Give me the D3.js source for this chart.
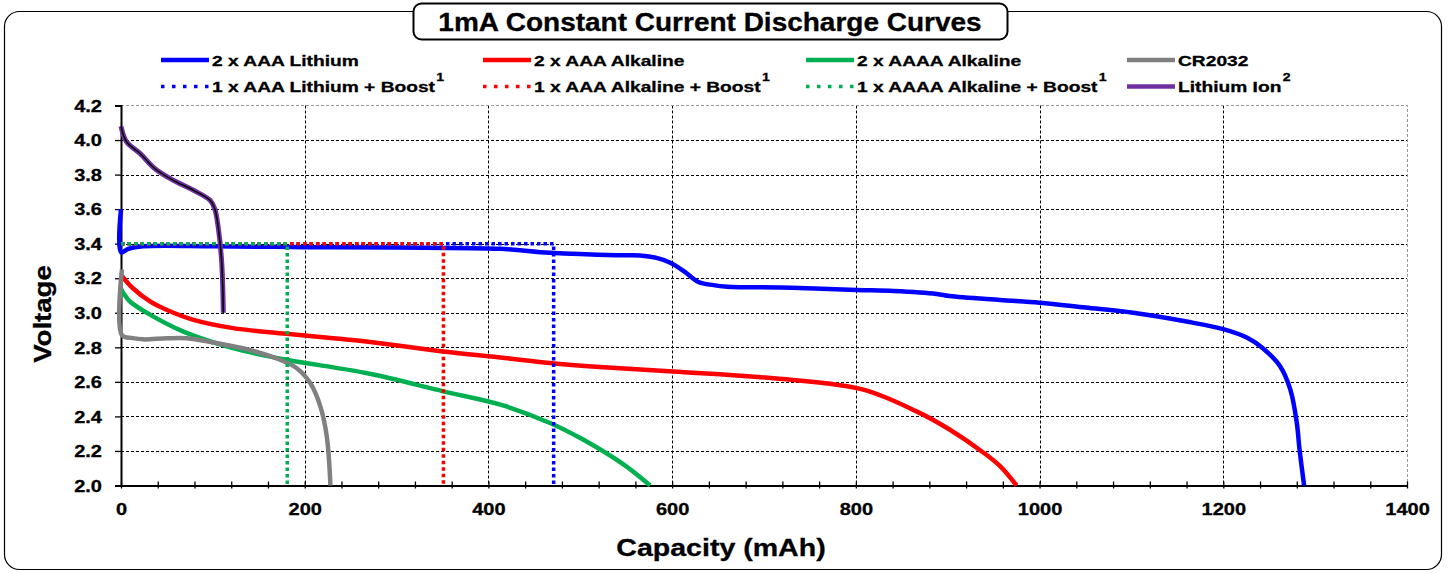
<!DOCTYPE html>
<html>
<head>
<meta charset="utf-8">
<script src="https://cdn.jsdelivr.net/npm/d3@7"></script>
<style>
  body { margin: 0; background: #fff; }
  text { font-family: "Liberation Sans", Arial, sans-serif; font-weight: bold; fill: #000; stroke: #000; stroke-width: 0.3px; }
</style>
</head>
<body>
<div id="chart"></div>
<script>
// values: [capacity mAh, volts]
var liAAA = [[0, 3.60], [0, 3.35], [8, 3.37], [24, 3.385], [100, 3.385], [200, 3.38], [300, 3.378],
  [413, 3.37], [467, 3.347], [540, 3.333], [565, 3.332], [583, 3.318], [598, 3.29], [613, 3.24],
  [628, 3.18], [645, 3.16], [660, 3.151], [730, 3.145], [801, 3.132], [841, 3.126], [888, 3.109],
  [902, 3.097], [957, 3.074], [1000, 3.058], [1050, 3.03], [1102, 3.0], [1160, 2.949], [1200, 2.905],
  [1226, 2.855], [1243, 2.795], [1262, 2.689], [1273, 2.555], [1280, 2.364], [1283, 2.208], [1288, 2.0]]
var alkAAA = [[0, 3.22], [3, 3.20], [13, 3.142], [32, 3.064], [50, 3.016], [79, 2.959], [122, 2.911],
  [180, 2.878], [267, 2.834], [351, 2.776], [413, 2.741], [467, 2.709], [521, 2.686], [601, 2.66],
  [721, 2.616], [808, 2.555], [866, 2.429], [902, 2.324], [939, 2.19], [957, 2.112], [975, 2.0]]
var alkAAAA = [[0, 3.14], [3, 3.11], [10, 3.064], [32, 2.988], [68, 2.891], [122, 2.795], [180, 2.728],
  [267, 2.651], [351, 2.545], [413, 2.468], [467, 2.362], [503, 2.266], [547, 2.122], [576, 2.0]]
var cr2032 = [[1, 3.25], [1, 2.87], [13, 2.853], [24, 2.846], [50, 2.852], [72, 2.852], [100, 2.828],
  [140, 2.785], [173, 2.728], [191, 2.68], [206, 2.593], [217, 2.458], [224, 2.285], [228, 2.0]]
var liIon = [[0, 4.08], [6, 3.99], [21, 3.921], [37, 3.834], [57, 3.767], [79, 3.709], [97, 3.651],
  [102, 3.603], [106, 3.488], [109.6, 3.295], [111.4, 3.0]]
var liBoost = [[0, 3.40], [471, 3.40], [471, 2.0]]
var alkBoost = [[0, 3.40], [351, 3.40], [351, 2.0]]
var aaaaBoost = [[0, 3.40], [181, 3.40], [181, 2.0]]

var xTicks = d3.range(0, 1401, 40)
var xLabels = [0, 200, 400, 600, 800, 1000, 1200, 1400]
var yTicks = [2.0, 2.2, 2.4, 2.6, 2.8, 3.0, 3.2, 3.4, 3.6, 3.8, 4.0, 4.2]

var legendRow1 = ["2 x AAA Lithium", "2 x AAA Alkaline", "2 x AAAA Alkaline", "CR2032"]
var legendRow2 = ["1 x AAA Lithium + Boost", "1 x AAA Alkaline + Boost", "1 x AAAA Alkaline + Boost", "Lithium Ion"]
var legendSup2 = ["1", "1", "1", "2"]

var blue = "#0000ff", red = "#ff0000", green = "#00b050", grey = "#808080", purple = "#7030a0"

// canvas
var svgWidth = 1453
var svgHeight = 573
var plot = { left: 121, right: 1407, top: 105.5, bottom: 485.5 }

var svg = d3.select("#chart")
  .append("svg")
  .attr("width", svgWidth)
  .attr("height", svgHeight)

// text in the picture is a little wider than normal Arial
function label(x, y, str, size, anchor, sx, rot) {
  var t = svg.append("text")
    .attr("transform", `translate(${x},${y})` + (rot ? ` rotate(${rot})` : "") + ` scale(${sx},1)`)
    .attr("text-anchor", anchor)
    .style("font-size", size + "px")
    .text(str)
  return t
}

// outer frame
svg.append("rect")
  .attr("x", 4.5).attr("y", 11.5)
  .attr("width", 1437).attr("height", 558)
  .attr("rx", 15)
  .attr("fill", "#fff")
  .attr("stroke", "#000")
  .attr("stroke-width", 1.2)

// title box
svg.append("rect")
  .attr("x", 413.5).attr("y", 3.5)
  .attr("width", 594).attr("height", 36)
  .attr("rx", 8)
  .attr("fill", "#fff")
  .attr("stroke", "#000")
  .attr("stroke-width", 2)
label(710, 31, "1mA Constant Current Discharge Curves", 25, "middle", 1.12)

// scales
var x = d3.scaleLinear().domain([0, 1400]).range([plot.left, plot.right])
var y = d3.scaleLinear().domain([2.0, 4.2]).range([plot.bottom, plot.top])

// grid
var grid = svg.append("g")
grid.selectAll(".hg")
  .data(yTicks.filter(d => d > 2.0 && d < 4.2))
  .enter().append("line")
  .attr("x1", plot.left).attr("x2", plot.right)
  .attr("y1", d => Math.round(y(d)) + 0.5).attr("y2", d => Math.round(y(d)) + 0.5)
  .attr("stroke", "#000").attr("stroke-dasharray", "3,2")
grid.selectAll(".vg")
  .data(xLabels.filter(d => d > 0 && d < 1400))
  .enter().append("line")
  .attr("x1", d => Math.round(x(d)) + 0.5).attr("x2", d => Math.round(x(d)) + 0.5)
  .attr("y1", plot.top).attr("y2", plot.bottom)
  .attr("stroke", "#000").attr("stroke-dasharray", "3,2")
// top and right border of the plot area
grid.append("path")
  .attr("d", `M${plot.left},${plot.top}H${plot.right + 0.5}V${plot.bottom}`)
  .attr("fill", "none")
  .attr("stroke", "#999").attr("stroke-dasharray", "3,2")

// axes
var bottomAxis = d3.axisBottom(x)
  .tickValues(xTicks)
  .tickFormat(d => xLabels.indexOf(d) >= 0 ? d : "")
  .tickSizeOuter(0)
var xAxis = svg.append("g")
  .attr("transform", `translate(0, ${plot.bottom})`)
  .call(bottomAxis)
xAxis.selectAll(".tick line").attr("y1", -4).attr("y2", 3).attr("stroke-width", 1.3)
xAxis.selectAll(".tick text")
  .attr("y", 18).attr("dy", "0.71em")
  .attr("transform", "scale(1.25,1)")
  .style("font-size", "16px")
  .style("font-family", "'Liberation Sans', Arial, sans-serif")
  .style("font-weight", "bold")
xAxis.select(".domain").attr("stroke-width", 2)

var leftAxis = d3.axisLeft(y)
  .tickValues(yTicks)
  .tickFormat(d3.format(".1f"))
  .tickSizeOuter(0)
  .tickSize(6)
var yAxis = svg.append("g")
  .attr("transform", `translate(${plot.left}, 0)`)
  .call(leftAxis)
yAxis.selectAll(".tick line").attr("stroke-width", 1.3)
yAxis.selectAll(".tick text")
  .attr("x", -19 / 1.25).attr("dy", "0.36em")
  .attr("transform", "scale(1.25,1)")
  .style("font-size", "16px")
  .style("font-family", "'Liberation Sans', Arial, sans-serif")
  .style("font-weight", "bold")
yAxis.select(".domain").attr("stroke-width", 2)

// axis titles
label(721, 556, "Capacity (mAh)", 24, "middle", 1.19)
label(51, 314, "Voltage", 24, "middle", 1.15, -90)

// curves
var smooth = d3.line()
  .x(d => x(d[0]))
  .y(d => y(d[1]))
  .curve(d3.curveCatmullRom.alpha(0.5))
var straight = d3.line()
  .x(d => x(d[0]))
  .y(d => y(d[1]))

var series = svg.append("g")
function draw(data, gen, color, width, dash) {
  series.append("path")
    .datum(data)
    .attr("d", gen)
    .attr("fill", "none")
    .attr("stroke", color)
    .attr("stroke-width", width)
    .attr("stroke-linejoin", "round")
    .attr("stroke-dasharray", dash || null)
}
draw(liAAA, smooth, blue, 4.5)
draw(alkAAA, smooth, red, 4.5)
draw(alkAAAA, smooth, green, 4.5)
draw(cr2032, smooth, grey, 4.5)
draw(liBoost, straight, blue, 3.5, "3.5,3")
draw(alkBoost, straight, red, 3.5, "3.5,3")
draw(aaaaBoost, straight, green, 3.5, "3.5,3")
draw(liIon, smooth, purple, 5)
draw(liIon, smooth, "#000", 1.5)

// legend
var legendX = [161, 483, 806, 1127]
var rowY = [60, 86.5]
var row1Colors = [blue, red, green, grey]
var row2Colors = [blue, red, green, purple]

legendRow1.forEach((name, i) => {
  svg.append("line")
    .attr("x1", legendX[i]).attr("x2", legendX[i] + 48)
    .attr("y1", rowY[0]).attr("y2", rowY[0])
    .attr("stroke", row1Colors[i]).attr("stroke-width", 4.5)
  label(legendX[i] + 51, rowY[0] + 5.5, name, 15, "start", 1.28)
})
legendRow2.forEach((name, i) => {
  var ln = svg.append("line")
    .attr("x1", legendX[i]).attr("x2", legendX[i] + 48)
    .attr("y1", rowY[1]).attr("y2", rowY[1])
    .attr("stroke", row2Colors[i]).attr("stroke-width", i < 3 ? 3.5 : 4.5)
  if (i < 3) ln.attr("stroke-dasharray", "3.5,7.5")
  var t = label(legendX[i] + 51, rowY[1] + 5.5, name, 15, "start", 1.28)
  t.append("tspan")
    .attr("dy", -11)
    .attr("dx", 1)
    .style("font-size", "11px")
    .text(legendSup2[i])
})
</script>
</body>
</html>
